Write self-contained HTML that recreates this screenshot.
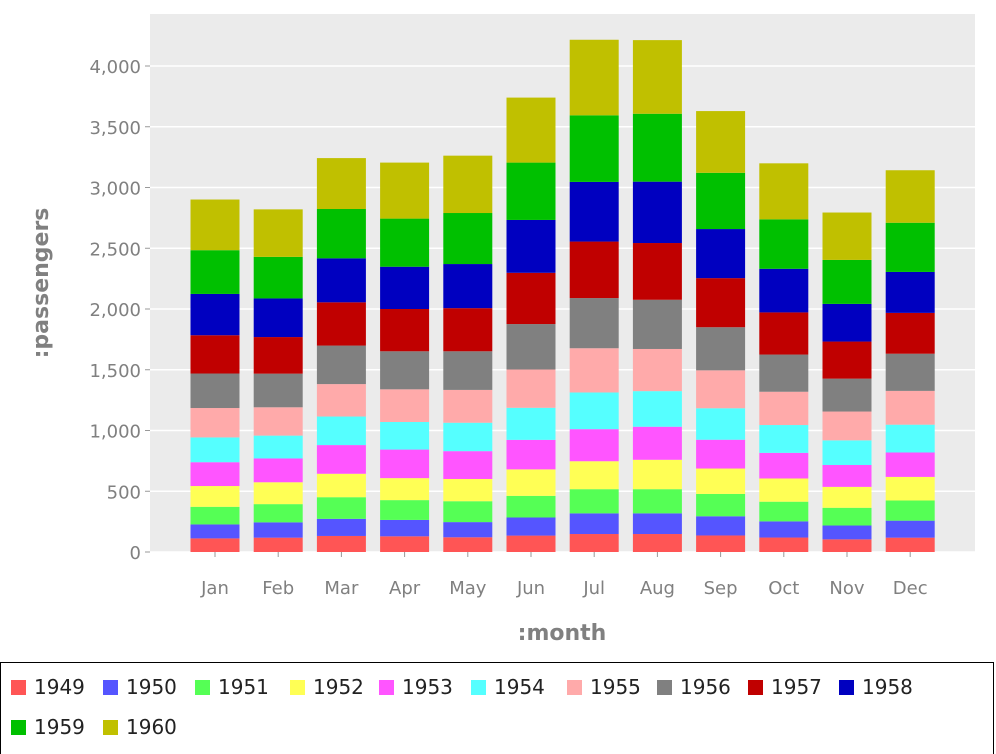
<!DOCTYPE html>
<html><head><meta charset="utf-8"><style>
body{margin:0;width:996px;height:754px;background:#fff;font-family:"DejaVu Sans","Liberation Sans",sans-serif;overflow:hidden;position:relative}
.leg{position:absolute;left:0;top:662px;width:994px;height:92px;border:1px solid #000;box-sizing:border-box;border-bottom:none}
.li{position:absolute;font-size:20px;color:#222;height:24px;line-height:24px}
.li span{display:inline-block;width:15px;height:15px;margin-right:8px;vertical-align:-1px}
</style></head><body>
<svg id="chart" width="996" height="662" style="position:absolute;left:0;top:0"></svg>
<div class="leg" id="legend"></div>
<script>
const months=["Jan","Feb","Mar","Apr","May","Jun","Jul","Aug","Sep","Oct","Nov","Dec"];
const years=["1949","1950","1951","1952","1953","1954","1955","1956","1957","1958","1959","1960"];
const colors=["#ff5555","#5555ff","#55ff55","#ffff55","#ff55ff","#55ffff","#ffaaaa","#808080","#c00000","#0000c0","#00c000","#c0c000"];
const v1949=[112,118,132,129,121,135,148,148,136,119,104,118];
const v1950=[115,126,141,135,125,149,170,170,158,133,114,140];
const v1951=[145,150,178,163,172,178,199,199,184,162,146,166];
const v1952=[171,180,193,181,183,218,230,242,209,191,172,194];
const v1953=[196,196,236,235,229,243,264,272,237,211,180,201];
const v1954=[204,188,235,227,234,264,302,293,259,229,203,229];
const v1955=[242,233,267,269,270,315,364,347,312,274,237,278];
const v1956=[284,277,317,313,318,374,413,405,355,306,271,306];
const v1957=[315,301,356,348,355,422,465,467,404,347,305,336];
const v1958=[340,318,362,348,363,435,491,505,404,359,310,337];
const v1959=[360,342,406,396,420,472,548,559,463,407,362,405];
const v1960=[417,391,419,461,472,535,622,606,508,461,390,432];
const series=[v1949,v1950,v1951,v1952,v1953,v1954,v1955,v1956,v1957,v1958,v1959,v1960];
const yTicks=[0,500,1000,1500,2000,2500,3000,3500,4000];
const yTickLabels=["0","500","1,000","1,500","2,000","2,500","3,000","3,500","4,000"];
const NS="http://www.w3.org/2000/svg";
const svg=document.getElementById('chart');
const PL=150,PR=975,PT=14,PB=552;
const y=v=>PB-v*0.1215;
const xc=i=>215+i*63.2;
function el(t,a,txt){const e=document.createElementNS(NS,t);for(const k in a)e.setAttribute(k,a[k]);if(txt!==undefined)e.textContent=txt;svg.appendChild(e);return e;}
const bg=el('rect',{x:PL,y:PT,width:PR-PL,height:PB-PT,fill:'#ebebeb'});


yTicks.forEach((t,i)=>{
  const g=el('line',{x1:PL,x2:PR,y1:y(t),y2:y(t),stroke:'#fff','stroke-width':1.5});
  
  
  el('line',{x1:PL-5,x2:PL,y1:y(t),y2:y(t),stroke:'#999'});
  const l=el('text',{x:PL-9,y:y(t)+7,'text-anchor':'end','font-size':18,fill:'#808080'},yTickLabels[i]);
  
  
});
months.forEach((m,i)=>{
  let cum=0;
  series.forEach((s,k)=>{
    const r=el('rect',{x:xc(i)-24.5,y:y(cum+s[i]),width:49,height:y(cum)-y(cum+s[i]),fill:colors[k]});
    
    
    cum+=s[i];
  });
  el('line',{x1:xc(i),x2:xc(i),y1:PB,y2:PB+5,stroke:'#999'});
  const l=el('text',{x:xc(i),y:PB+42,'text-anchor':'middle','font-size':18,fill:'#808080'},m);
  
  
});
const xt=el('text',{x:562,y:640,'text-anchor':'middle','font-size':22,'font-weight':'bold',fill:'#808080'},':month');


const yt=el('text',{x:0,y:0,'text-anchor':'middle','font-size':22,'font-weight':'bold',fill:'#808080',transform:'translate(48,283) rotate(-90)'},':passengers');


const leg=document.getElementById('legend');
const lx=[10,102,194,289,378,470,566,656,747,838,10,102];
years.forEach((yr,k)=>{
  const d=document.createElement('div');
  d.className='li';
  d.style.left=lx[k]+'px';
  d.style.top=(k<10?12:52)+'px';
  d.innerHTML='<span style="background:'+colors[k]+'"></span>'+yr;
  
  
  leg.appendChild(d);
});
</script>
</body></html>
